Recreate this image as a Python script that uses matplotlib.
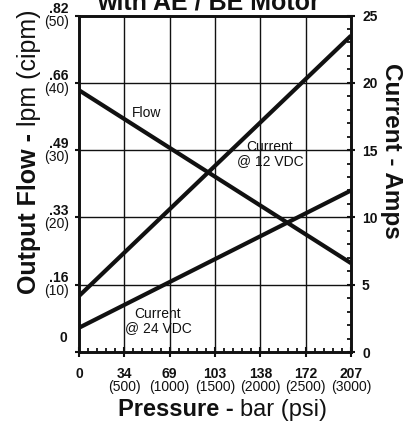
import matplotlib
matplotlib.use("Agg")
import matplotlib.pyplot as plt
from matplotlib import transforms

plt.rcParams['font.family'] = ['Liberation Sans', 'DejaVu Sans']

# ---- data ----
pressure_psi = [0, 3000]
flow_cipm = [38.9, 13.2]
current_12vdc = [4.16, 23.5]
current_24vdc = [1.8, 12.0]

x_ticks_psi = [0, 500, 1000, 1500, 2000, 2500, 3000]
x_labels_bar = ["0", "34", "69", "103", "138", "172", "207"]
x_labels_psi = ["", "(500)", "(1000)", "(1500)", "(2000)", "(2500)", "(3000)"]

y_ticks_cipm = [0, 10, 20, 30, 40, 50]
y_labels_lpm = ["0", ".16", ".33", ".49", ".66", ".82"]
y_labels_cipm = ["", "(10)", "(20)", "(30)", "(40)", "(50)"]

amp_ticks = [0, 5, 10, 15, 20, 25]
amp_labels = ["0", "5", "10", "15", "20", "25"]

title = "with AE / BE Motor"

# ---- figure ----
W, H = 415, 424
fig = plt.figure(figsize=(W / 100, H / 100), dpi=100)
L, R, T, B = 79, 351, 15.5, 352
ax = fig.add_axes([L / W, 1 - B / H, (R - L) / W, (B - T) / H])
ax2 = ax.twinx()

px = 0.72  # points per pixel at dpi 100

ax.set_xlim(0, 3000)
ax.set_ylim(0, 50)
ax2.set_ylim(0, 25)

# grid
for xv in x_ticks_psi[1:-1]:
    ax.axvline(xv, color='#111111', lw=1.0, zorder=1)
for yv in y_ticks_cipm[1:-1]:
    ax.axhline(yv, color='#111111', lw=1.0, zorder=1)

# data lines
ax.plot(pressure_psi, flow_cipm, color='#111111', lw=3.0, solid_capstyle='butt', zorder=3)
ax2.plot(pressure_psi, current_12vdc, color='#111111', lw=3.0, solid_capstyle='butt', zorder=3)
ax2.plot(pressure_psi, current_24vdc, color='#111111', lw=3.0, solid_capstyle='butt', zorder=3)

# spines
for a in (ax, ax2):
    for s in a.spines.values():
        s.set_linewidth(1.9)
        s.set_color('#111111')

# ticks
ax.set_xticks(x_ticks_psi)
ax.set_xticklabels([])
ax.set_xticks(range(0, 3001, 100), minor=True)
ax.tick_params(axis='x', which='major', direction='inout', length=7, width=1.5, color='#111111')
ax.tick_params(axis='x', which='minor', direction='in', length=3, width=1.3, color='#111111')
ax.set_yticks(y_ticks_cipm)
ax.set_yticklabels([])
ax.tick_params(axis='y', which='major', direction='out', length=3, width=1.5, color='#111111')

ax2.set_yticks(amp_ticks)
ax2.set_yticklabels([])
ax2.set_yticks(range(0, 26), minor=True)
ax2.tick_params(axis='y', which='major', direction='inout', length=6, width=1.5, color='#111111')
ax2.tick_params(axis='y', which='minor', direction='in', length=3, width=1.3, color='#111111')

# bottom tick labels
xt = ax.get_xaxis_transform()
for xv, lb, lp in zip(x_ticks_psi, x_labels_bar, x_labels_psi):
    tr = transforms.offset_copy(xt, fig=fig, x=0, y=-26 * px, units='points')
    ax.text(xv, 0, lb, transform=tr, ha='center', va='baseline', fontsize=10,
            fontweight='bold', color='#111111')
    if lp:
        tr2 = transforms.offset_copy(xt, fig=fig, x=0, y=-39.5 * px, units='points')
        ax.text(xv, 0, lp, transform=tr2, ha='center', va='baseline', fontsize=10,
                color='#111111')

# left tick labels
yt = ax.get_yaxis_transform()
for yv, ll, lc in zip(y_ticks_cipm, y_labels_lpm, y_labels_cipm):
    if lc:
        tr = transforms.offset_copy(yt, fig=fig, x=-11 * px, y=2.5 * px, units='points')
        ax.text(0, yv, ll, transform=tr, ha='right', va='baseline', fontsize=10,
                fontweight='bold', color='#111111')
        tr2 = transforms.offset_copy(yt, fig=fig, x=-10 * px, y=-10.5 * px, units='points')
        ax.text(0, yv, lc, transform=tr2, ha='right', va='baseline', fontsize=10,
                color='#111111')
    else:
        tr = transforms.offset_copy(yt, fig=fig, x=-12 * px, y=10 * px, units='points')
        ax.text(0, yv, ll, transform=tr, ha='right', va='baseline', fontsize=10,
                fontweight='bold', color='#111111')

# right tick labels
yt2 = ax2.get_yaxis_transform()
for yv, lb in zip(amp_ticks, amp_labels):
    tr = transforms.offset_copy(yt2, fig=fig, x=11 * px, y=0, units='points')
    ax2.text(1, yv, lb, transform=tr, ha='left', va='center_baseline', fontsize=10,
             fontweight='bold', color='#111111')

# curve labels (positioned in pixel space of figure)
def fig_xy(xp, yp):
    return xp / W, 1 - yp / H

fig.text(*fig_xy(147, 117), "Flow", ha='center', va='baseline', fontsize=10, color='#111111')
fig.text(*fig_xy(270, 154), "Current\n@ 12 VDC", ha='center', va='center', fontsize=10,
         color='#111111', linespacing=1.0)
fig.text(*fig_xy(158, 321), "Current\n@ 24 VDC", ha='center', va='center', fontsize=10,
         color='#111111', linespacing=1.0)

# title (cut at top)
fig.text(*fig_xy(208, 10), title, ha='center', va='baseline', fontsize=18,
         fontweight='bold', color='#111111')

# axis labels with mixed weights
renderer = fig.canvas.get_renderer()

# x label
t1 = fig.text(*fig_xy(118, 416), "Pressure - ", ha='left', va='baseline', fontsize=17,
              fontweight='bold', color='#111111')
bb = t1.get_window_extent(renderer)
fig.text(bb.x1 / W, 1 - 416 / H, "bar (psi)", ha='left', va='baseline', fontsize=17,
         color='#111111')

# left y label (reads bottom to top)
t2 = fig.text(*fig_xy(36, 294), "Output Flow - ", rotation=90, rotation_mode='anchor',
              ha='left', va='baseline', fontsize=18, fontweight='bold', color='#111111')
bb2 = t2.get_window_extent(renderer)
fig.text(36 / W, bb2.y1 / H, "lpm (cipm)", rotation=90, rotation_mode='anchor',
         ha='left', va='baseline', fontsize=18, color='#111111')

# right y label
fig.text(*fig_xy(391, 151), "Current - Amps", rotation=-90, ha='center', va='center',
         fontsize=17.5, fontweight='bold', color='#111111')

fig.savefig("out.png", dpi=100)
